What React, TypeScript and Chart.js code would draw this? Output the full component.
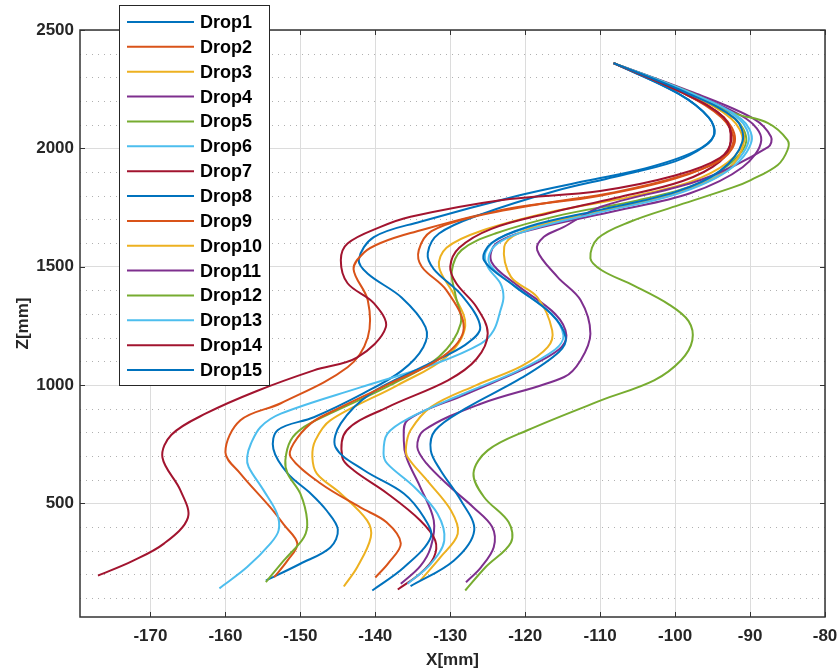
import React, { useEffect, useRef } from 'react';
import { Chart, registerables } from 'chart.js';

Chart.register(...registerables);

const dropLabels = ['Drop1', 'Drop2', 'Drop3', 'Drop4', 'Drop5', 'Drop6', 'Drop7', 'Drop8', 'Drop9', 'Drop10', 'Drop11', 'Drop12', 'Drop13', 'Drop14', 'Drop15'];
const dropColors = ['#0072BD', '#D95319', '#EDB120', '#7E2F8E', '#77AC30', '#4DBEEE', '#A2142F', '#0072BD', '#D95319', '#EDB120', '#7E2F8E', '#77AC30', '#4DBEEE', '#A2142F', '#0072BD'];

// [X mm, Z mm] pairs
const drop1 = [[-154.6,174],[-150.0,245],[-146.0,314],[-145.0,390],[-146.5,470],[-148.6,541],[-151.7,627],[-153.6,730],[-153.0,810],[-148.2,864],[-141.6,965],[-136.5,1060],[-133.6,1160],[-133.3,1245],[-136.5,1370],[-141.0,1470],[-142.2,1530],[-140.2,1625],[-134.0,1690],[-121.0,1800],[-112.0,1862],[-104.0,1915],[-97.5,1985],[-94.8,2055],[-95.5,2130],[-99.5,2230],[-108.2,2360]];
const drop2 = [[-153.5,188],[-151.7,259],[-150.4,330],[-152.2,410],[-154.0,483],[-158.0,626],[-160.0,716],[-158.0,851],[-152.6,923],[-143.7,1075],[-141.0,1202],[-141.0,1358],[-142.9,1490],[-141.5,1560],[-139.3,1600],[-135.3,1642],[-123.3,1739],[-110.0,1800],[-100.0,1872],[-94.0,1952],[-92.2,2035],[-93.8,2130],[-99.0,2235],[-108.2,2360]];
const drop3 = [[-144.2,149],[-142.4,231],[-140.6,357],[-141.1,428],[-144.6,541],[-147.8,626],[-148.4,696],[-148.0,766],[-146.0,851],[-137.0,1000],[-130.5,1120],[-128.0,1250],[-129.5,1380],[-131.5,1500],[-130.5,1580],[-126.0,1650],[-116.0,1735],[-106.0,1795],[-98.0,1858],[-93.0,1940],[-91.0,2030],[-92.5,2125],[-98.5,2235],[-108.2,2360]];
const drop4 = [[-136.6,160],[-134.0,235],[-132.6,315],[-132.2,428],[-134.0,569],[-135.8,690],[-136.2,766],[-135.7,851],[-128.0,960],[-120.0,1070],[-115.5,1150],[-114.5,1210],[-116.0,1300],[-121.0,1420],[-124.5,1520],[-123.8,1600],[-118.0,1665],[-108.0,1735],[-98.0,1810],[-91.0,1920],[-88.5,2035],[-90.5,2125],[-98.0,2235],[-108.2,2360]];
const drop5 = [[-154.6,167],[-152.2,259],[-149.5,358],[-149.1,428],[-150.0,541],[-151.7,626],[-152.0,682],[-151.3,766],[-149.5,823],[-146.0,880],[-138.0,1000],[-131.5,1120],[-128.6,1260],[-129.3,1380],[-129.8,1480],[-128.5,1570],[-124.0,1640],[-115.0,1720],[-105.0,1780],[-97.0,1850],[-92.5,1940],[-90.5,2030],[-92.0,2125],[-98.5,2235],[-108.2,2360]];
const drop6 = [[-160.8,141],[-157.1,231],[-154.0,330],[-152.9,386],[-153.1,456],[-154.9,555],[-156.9,654],[-157.1,696],[-156.6,752],[-155.3,823],[-152.6,879],[-142.0,990],[-132.0,1090],[-125.9,1175],[-124.2,1231],[-123.3,1316],[-122.9,1371],[-123.3,1429],[-125.0,1499],[-125.3,1560],[-123.5,1620],[-118.0,1680],[-109.0,1745],[-100.0,1815],[-93.0,1915],[-90.2,2030],[-91.5,2125],[-98.0,2235],[-108.2,2360]];
const drop7 = [[-137.0,136],[-134.0,204],[-132.2,271],[-132.0,343],[-134.0,428],[-138.4,542],[-142.9,640],[-144.4,694],[-143.8,809],[-138.4,906],[-130.3,1020],[-126.5,1110],[-125.0,1219],[-126.5,1330],[-129.2,1430],[-130.0,1500],[-128.8,1580],[-124.5,1660],[-117.0,1725],[-108.0,1790],[-99.0,1862],[-94.0,1945],[-92.6,2030],[-93.5,2130],[-99.0,2235],[-108.2,2360]];
const drop8 = [[-140.4,132],[-136.2,229],[-132.6,356],[-133.5,440],[-136.2,542],[-141.5,640],[-145.3,737],[-144.6,838],[-140.6,965],[-133.5,1080],[-128.0,1170],[-126.0,1244],[-128.5,1380],[-132.2,1490],[-133.0,1557],[-131.5,1640],[-126.0,1720],[-116.0,1820],[-108.0,1880],[-100.0,1945],[-96.0,2010],[-94.8,2060],[-95.5,2130],[-99.5,2230],[-108.2,2360]];
const drop9 = [[-140.0,187],[-138.2,250],[-136.6,331],[-138.5,420],[-142.0,483],[-147.3,584],[-151.3,696],[-150.9,753],[-148.6,838],[-146.0,885],[-138.5,1000],[-131.0,1120],[-128.2,1240],[-130.5,1400],[-133.8,1500],[-134.2,1570],[-132.5,1650],[-127.0,1710],[-118.0,1765],[-108.0,1815],[-99.0,1885],[-93.5,1960],[-92.0,2040],[-93.5,2130],[-99.0,2235],[-108.2,2360]];
const drop10 = [[-134.0,174],[-131.3,273],[-129.0,372],[-129.9,470],[-133.1,597],[-135.7,696],[-135.9,740],[-135.3,809],[-132.6,907],[-126.5,1000],[-120.5,1080],[-117.0,1160],[-116.4,1231],[-118.4,1372],[-121.9,1457],[-122.8,1584],[-121.0,1640],[-115.0,1700],[-107.0,1755],[-99.0,1820],[-93.0,1910],[-90.8,2030],[-92.0,2125],[-98.5,2235],[-108.2,2360]];
const drop11 = [[-127.9,167],[-125.9,230],[-124.2,315],[-124.4,400],[-126.9,483],[-130.0,569],[-133.2,670],[-134.4,738],[-133.5,809],[-126.0,920],[-114.8,1034],[-112.6,1105],[-111.3,1217],[-112.6,1358],[-115.7,1457],[-118.4,1570],[-117.5,1626],[-114.9,1667],[-109.9,1753],[-96.6,1866],[-87.6,2005],[-87.2,2049],[-89.5,2125],[-97.5,2235],[-108.2,2360]];
const drop12 = [[-128.0,132],[-125.3,230],[-121.9,335],[-122.2,420],[-125.5,527],[-126.9,627],[-125.0,724],[-119.7,809],[-109.9,935],[-102.8,1020],[-99.2,1105],[-97.7,1189],[-98.2,1270],[-100.8,1340],[-105.5,1420],[-109.8,1485],[-111.3,1535],[-110.3,1620],[-106.0,1690],[-99.5,1760],[-92.2,1836],[-89.9,1866],[-86.3,1930],[-85.0,1993],[-85.0,2035],[-87.6,2107],[-92.2,2149],[-97.5,2230],[-108.2,2360]];
const drop13 = [[-135.7,160],[-132.6,245],[-130.8,343],[-131.7,456],[-134.8,569],[-138.4,668],[-138.9,711],[-138.4,794],[-135.5,860],[-128.5,960],[-121.0,1060],[-116.0,1150],[-114.9,1210],[-116.5,1300],[-121.5,1420],[-124.8,1515],[-124.0,1590],[-119.0,1660],[-110.0,1730],[-100.0,1805],[-93.0,1905],[-89.8,2030],[-91.2,2125],[-98.0,2235],[-108.2,2360]];
const drop14 = [[-177.0,195],[-172.5,255],[-168.2,330],[-165.0,440],[-166.0,555],[-168.4,694],[-167.2,790],[-162.6,880],[-155.8,975],[-148.2,1062],[-142.4,1117],[-138.6,1244],[-140.2,1346],[-143.7,1430],[-144.6,1527],[-143.7,1598],[-139.3,1668],[-135.3,1711],[-123.3,1781],[-110.0,1820],[-100.0,1885],[-94.0,1960],[-92.5,2035],[-93.5,2130],[-99.0,2235],[-108.2,2360]];
const drop15 = [[-135.3,150],[-129.5,259],[-126.8,386],[-128.6,513],[-131.3,640],[-132.6,724],[-132.0,809],[-128.0,900],[-120.5,1030],[-115.5,1140],[-114.6,1202],[-116.5,1300],[-121.5,1420],[-125.5,1527],[-124.5,1600],[-119.5,1670],[-110.0,1740],[-100.0,1815],[-94.0,1905],[-91.0,2030],[-92.0,2125],[-98.5,2235],[-108.2,2360]];

const drops = [drop1, drop2, drop3, drop4, drop5, drop6, drop7, drop8, drop9, drop10, drop11, drop12, drop13, drop14, drop15];

const xTicks = [-170, -160, -150, -140, -130, -120, -110, -100, -90, -80];
const yTicks = [500, 1000, 1500, 2000, 2500];
const yMinorTicks = [100, 200, 300, 400, 600, 700, 800, 900, 1100, 1200, 1300, 1400, 1600, 1700, 1800, 1900, 2100, 2200, 2300, 2400];
const X_MIN = -179.4;
const X_MAX = -80;
const Y_MIN = 20;
const Y_MAX = 2500;

const FONT = "'Liberation Sans', Arial, Helvetica, sans-serif";
const TEXT_COLOR = '#262626';

const frameAndLegend = {
  id: 'frameAndLegend',
  beforeDatasetsDraw(chart: any) {
    const { ctx, chartArea, scales } = chart;
    const y = scales.y;
    ctx.save();
    ctx.strokeStyle = '#b0b0b0';
    ctx.lineWidth = 1;
    ctx.setLineDash([1, 5]);
    yMinorTicks.forEach((v) => {
      const py = Math.round(y.getPixelForValue(v)) + 0.5;
      ctx.beginPath();
      ctx.moveTo(chartArea.left, py);
      ctx.lineTo(chartArea.right, py);
      ctx.stroke();
    });
    ctx.restore();
  },
  afterDatasetsDraw(chart: any) {
    const { ctx, chartArea, scales } = chart;
    const { left, right, top, bottom } = chartArea;
    ctx.save();
    ctx.strokeStyle = '#333333';
    ctx.lineWidth = 1.5;
    ctx.setLineDash([]);
    ctx.strokeRect(left, top, right - left, bottom - top);
    ctx.lineWidth = 1;
    const tl = 5;
    xTicks.forEach((v) => {
      const px = Math.round(scales.x.getPixelForValue(v)) + 0.5;
      ctx.beginPath();
      ctx.moveTo(px, bottom);
      ctx.lineTo(px, bottom - tl);
      ctx.moveTo(px, top);
      ctx.lineTo(px, top + tl);
      ctx.stroke();
    });
    yTicks.forEach((v) => {
      const py = Math.round(scales.y.getPixelForValue(v)) + 0.5;
      ctx.beginPath();
      ctx.moveTo(left, py);
      ctx.lineTo(left + tl, py);
      ctx.moveTo(right, py);
      ctx.lineTo(right - tl, py);
      ctx.stroke();
    });
    ctx.restore();

    // legend box
    const bx = left + 39;
    const by = 5;
    const bw = 150;
    const bh = 380;
    ctx.save();
    ctx.fillStyle = '#ffffff';
    ctx.fillRect(bx, by, bw, bh);
    ctx.strokeStyle = '#262626';
    ctx.lineWidth = 1;
    ctx.strokeRect(bx + 0.5, by + 0.5, bw, bh);
    ctx.font = `bold 18px ${FONT}`;
    ctx.textBaseline = 'middle';
    ctx.textAlign = 'left';
    chart.data.datasets.forEach((ds: any, i: number) => {
      const cy = by + 17 + i * 24.86;
      ctx.strokeStyle = ds.borderColor;
      ctx.lineWidth = 2;
      ctx.beginPath();
      ctx.moveTo(bx + 8, cy);
      ctx.lineTo(bx + 75, cy);
      ctx.stroke();
      ctx.fillStyle = '#000000';
      ctx.fillText(ds.label, bx + 81, cy + 1);
    });
    ctx.restore();
  },
};

export default function App() {
  const canvasRef = useRef<HTMLCanvasElement | null>(null);

  useEffect(() => {
    const canvas = canvasRef.current;
    if (!canvas) return;
    const datasets = drops.map((pts, i) => ({
      label: dropLabels[i],
      data: pts.map(([x, z]) => ({ x, y: z })),
      borderColor: dropColors[i],
      backgroundColor: dropColors[i],
      borderWidth: 2,
      pointRadius: 0,
      showLine: true,
      fill: false,
      tension: 0.35,
      order: dropLabels.length - 1 - i,
    }));
    const chart = new Chart(canvas, {
      type: 'scatter',
      data: { datasets },
      options: {
        animation: false,
        responsive: false,
        maintainAspectRatio: false,
        devicePixelRatio: 1,
        layout: { padding: { top: 30, right: 12, left: 0, bottom: 0 } },
        plugins: {
          legend: { display: false },
          tooltip: { enabled: false },
        },
        scales: {
          x: {
            type: 'linear',
            min: X_MIN,
            max: X_MAX,
            afterBuildTicks: (s: any) => {
              s.ticks = xTicks.map((v) => ({ value: v }));
            },
            afterFit: (s: any) => {
              s.height = 55;
              s.paddingLeft = 0;
              s.paddingRight = 0;
            },
            ticks: {
              autoSkip: false,
              maxRotation: 0,
              padding: 9,
              color: TEXT_COLOR,
              font: { family: FONT, size: 17, weight: 'bold' },
              callback: (v: any) => String(v),
            },
            grid: { color: '#dcdcdc', lineWidth: 1, drawTicks: false },
            border: { display: false },
            title: {
              display: true,
              text: 'X[mm]',
              color: TEXT_COLOR,
              font: { family: FONT, size: 17, weight: 'bold', lineHeight: 1.2 },
              padding: { top: 0, bottom: 1 },
            },
          },
          y: {
            type: 'linear',
            min: Y_MIN,
            max: Y_MAX,
            afterBuildTicks: (s: any) => {
              s.ticks = yTicks.map((v) => ({ value: v }));
            },
            afterFit: (s: any) => {
              s.width = 80;
              s.paddingTop = 0;
              s.paddingBottom = 0;
            },
            ticks: {
              autoSkip: false,
              padding: 6,
              color: TEXT_COLOR,
              font: { family: FONT, size: 17, weight: 'bold' },
              callback: (v: any) => String(v),
            },
            grid: { color: '#dcdcdc', lineWidth: 1, drawTicks: false },
            border: { display: false },
            title: {
              display: true,
              text: 'Z[mm]',
              color: TEXT_COLOR,
              font: { family: FONT, size: 17, weight: 'bold', lineHeight: 1.2 },
              padding: { top: 13, bottom: 0 },
            },
          },
        },
      },
      plugins: [frameAndLegend],
    });
    return () => chart.destroy();
  }, []);

  return (
    <div style={{ position: 'absolute', left: 0, top: 0, width: 837, height: 672, background: '#ffffff' }}>
      <canvas ref={canvasRef} width={837} height={672} style={{ width: 837, height: 672, display: 'block' }} />
    </div>
  );
}
